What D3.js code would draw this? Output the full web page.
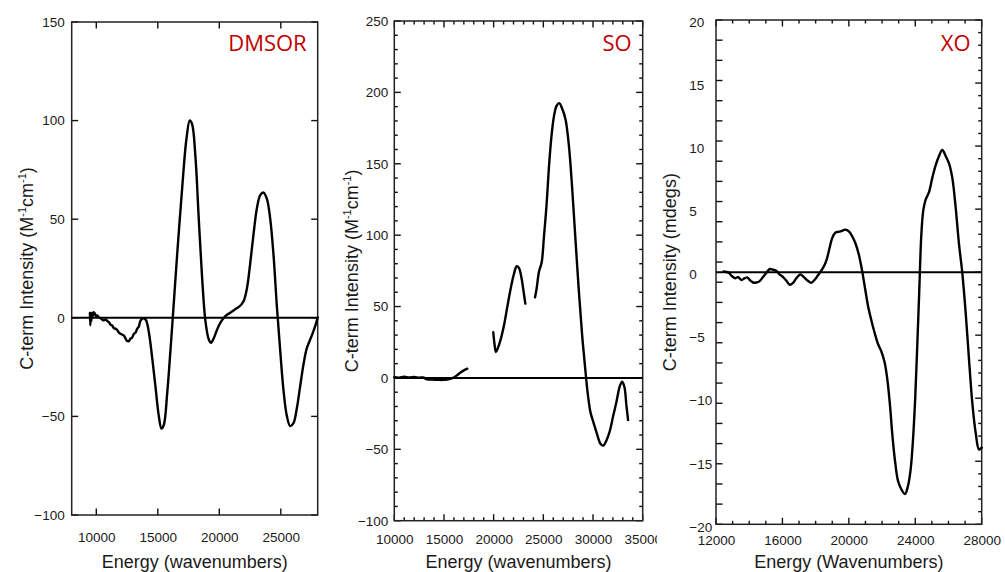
<!DOCTYPE html>
<html>
<head>
<meta charset="utf-8">
<script src="https://cdn.jsdelivr.net/npm/d3@7"></script>
<style>
  body { margin: 0; background: #fff; }
  svg text { font-family: "Liberation Sans", Arial, Helvetica, sans-serif; fill: #1a1a1a; }
  .panelName { font-family: "Open Sans", "Liberation Sans", sans-serif !important; fill: #c00000 !important; }
</style>
</head>
<body>
<svg id="chart" width="1005" height="572"></svg>
<script>
////////////////// Data ////////////////////
var panelNames = ["DMSOR", "SO", "XO"];

// DMSOR
var dmsorEnergy = [9480, 9510, 9560, 9600, 9640, 9720, 9800, 9890, 9980, 10080, 10200, 10350, 10480, 10620,
  10750, 10890, 11020, 11160, 11300, 11430, 11560, 11700, 11840, 11970, 12100, 12240, 12380, 12510, 12650,
  12780, 12920, 13050, 13190, 13320, 13460, 13560, 13650, 13860, 14050, 14270, 14540, 14810, 15080, 15300,
  15490, 15760, 16030, 16240, 16570, 16970, 17330, 17600, 17790, 18060, 18330, 18600, 18870, 19140, 19330,
  19540, 19810, 20080, 20490, 20890, 21300, 21700, 21980, 22250, 22520, 22790, 23060, 23330, 23600, 23870,
  24140, 24410, 24680, 24950, 25220, 25490, 25760, 26030, 26300, 26570, 26840, 27110, 27520, 27790, 28000];
var dmsorIntensity = [2.4, -3.8, 1.7, -1.5, 2.6, 1.0, 2.8, 2.0, 0.8, 1.2, 0.2, -0.2, -0.9, -1.3,
  -0.8, -1.6, -2.2, -3.5, -4.0, -5.3, -5.5, -6.2, -7.5, -8.1, -8.5, -9.0, -10.5, -11.8, -11.8,
  -10.6, -10.0, -8.2, -7.5, -5.6, -4.4, -2.0, -0.9, -0.2, -1.3, -7.2, -20.1, -34.9, -49.7, -56.2,
  -54.3, -38.6, -16.4, 2.1, 31.7, 64.9, 90.8, 100.1, 98.2, 81.6, 50.2, 20.6, -1.6, -10.9, -12.7,
  -10.5, -6.2, -2.6, 0.8, 2.6, 4.3, 6.1, 8.5, 15.0, 28.0, 42.8, 55.7, 62.2, 63.5, 60.3,
  50.2, 31.7, 5.8, -16.4, -36.8, -49.7, -54.9, -53.4, -46.0, -34.9, -23.8, -15.5, -9.0, -4.4, 0.2];

// SO (three separate pieces)
var soEnergy1 = [10000, 10500, 11000, 11500, 12000, 12500, 12900, 13300, 13800, 14300, 14800, 15300, 15900, 16300, 16700, 17000, 17350];
var soIntensity1 = [0.5, 0.2, 0.8, 0.3, 0.6, 0.2, 0.3, -1.0, -1.2, -1.3, -1.4, -1.2, 0.0, 1.8, 4.0, 5.3, 6.5];
var soEnergy2 = [19960, 20080, 20220, 20400, 20710, 21050, 21380, 21720, 22050, 22320, 22550, 22790, 22990, 23190];
var soIntensity2 = [32, 24, 18.2, 20.5, 27, 37.2, 50, 62.8, 73.1, 78.2, 76.9, 70.5, 61.5, 52];
var soEnergy3 = [24160, 24330, 24560, 24830, 25060, 25330, 25560, 25800, 26070, 26330, 26600, 26900, 27240,
  27570, 27910, 28240, 28580, 28910, 29250, 29480, 29750, 30080, 30420, 30750, 31020, 31360, 31690, 32020,
  32360, 32690, 32930, 33160, 33360, 33530];
var soIntensity3 = [56.4, 62.8, 74.4, 80.8, 98.7, 121.8, 147.4, 168, 183.3, 190.5, 192.5, 188.5, 180.8,
  162.8, 132, 96.2, 60.3, 29.5, 3.9, -11.5, -24.3, -32, -39.7, -46.1, -47.4, -43.6, -37.2, -26.9,
  -16.7, -5.9, -2.6, -6.4, -19.2, -29.5];

// XO
var xoEnergy = [12460, 12760, 12970, 13170, 13330, 13530, 13710, 13870, 14030, 14230, 14430, 14630, 14830,
  15035, 15240, 15440, 15640, 15840, 16040, 16240, 16440, 16640, 16840, 17085, 17290, 17530, 17730, 17930,
  18130, 18330, 18530, 18690, 18850, 19000, 19200, 19500, 19800, 20000, 20200, 20400, 20600, 20800, 20965,
  21150, 21350, 21550, 21750, 21950, 22150, 22310, 22470, 22630, 22790, 22955, 23115, 23380, 23560, 23720,
  23860, 24000, 24120, 24240, 24360, 24480, 24620, 24820, 25025, 25230, 25430, 25630, 25830, 26030, 26230,
  26430, 26630, 26830, 27035, 27240, 27440, 27640, 27840, 28000];
var xoIntensity = [0.05, -0.04, -0.33, -0.48, -0.39, -0.62, -0.5, -0.42, -0.62, -0.82, -0.82, -0.71, -0.39,
  -0.04, 0.25, 0.19, 0.1, -0.19, -0.39, -0.68, -1.0, -0.85, -0.48, -0.19, -0.39, -0.68, -0.85, -0.62,
  -0.27, 0.1, 0.54, 1.12, 1.98, 2.71, 3.14, 3.23, 3.37, 3.23, 2.85, 2.27, 1.4, 0.1, -1.2,
  -2.64, -3.8, -4.81, -5.68, -6.26, -7.13, -8.43, -10.45, -13.06, -15.08, -16.53, -17.1, -17.6, -16.96, -15.66,
  -13.35, -9.87, -5.83, -1.49, 2.85, 4.88, 5.74, 6.32, 7.48, 8.49, 9.21, 9.7, 9.21, 8.63, 7.48,
  5.16, 2.27, -0.04, -3.22, -7.0, -10.45, -12.77, -14.07, -13.92];

// Tick labels
var dmsorXTicks = [10000, 15000, 20000, 25000];
var dmsorYTicks = [150, 100, 50, 0, -50, -100];
var soXTicks = [10000, 15000, 20000, 25000, 30000, 35000];
var soYTicks = [250, 200, 150, 100, 50, 0, -50, -100];
var xoXTicks = [12000, 16000, 20000, 24000, 28000];
var xoYTicks = [20, 15, 10, 5, 0, -5, -10, -15, -20];

////////////////// Panel layout ////////////////////
var panels = [
  { name: panelNames[0], left: 71.7, right: 317.7, top: 22, bottom: 515,
    xDomain: [8000, 28000], yDomain: [-100, 150],
    xTicks: dmsorXTicks, yTicks: dmsorYTicks, xPad: 17, yPad: 7,
    series: [[dmsorEnergy, dmsorIntensity]],
    yTitle: "unit", yTitleX: 27, xTitle: "Energy (wavenumbers)" },
  { name: panelNames[1], left: 394.3, right: 642.7, top: 21, bottom: 520.7,
    xDomain: [10000, 35000], yDomain: [-100, 250],
    xTicks: soXTicks, yTicks: soYTicks, xPad: 13.5, yPad: 6,
    xMinorStep: 1000, yMinorStep: 10, clipRight: 657,
    series: [[soEnergy1, soIntensity1], [soEnergy2, soIntensity2], [soEnergy3, soIntensity3]],
    yTitle: "unit", yTitleX: 352, xTitle: "Energy (wavenumbers)" },
  { name: panelNames[2], left: 716, right: 981.7, top: 20, bottom: 524.3,
    xDomain: [12000, 28000], yDomain: [-20, 20],
    xTicks: xoXTicks, yTicks: xoYTicks, xPad: 11, yPad: 6,
    xMinorStep: 1000, yMinorStep: 1, yLeftStep: 1.6, yLeftAlign: 689.3,
    series: [[xoEnergy, xoIntensity]],
    yTitle: "C-term Intensity (mdegs)", yTitleX: 670, xTitle: "Energy (Wavenumbers)" }
];

var svg = d3.select("#chart");
svg.append("rect").attr("width", 1005).attr("height", 572).attr("fill", "#fff");

var majorLen = 6.5, minorLen = 3.5;

function stepValues(domain, step) {
  var n = Math.round((domain[1] - domain[0]) / step);
  return d3.range(n + 1).map(k => domain[0] + k * step);
}

// inward tick marks, drawn from the scale
function xTickMarks(g, x, values, y0, dir, len) {
  g.append("g").selectAll("line").data(values).enter().append("line")
    .attr("x1", d => x(d)).attr("x2", d => x(d))
    .attr("y1", y0).attr("y2", y0 + dir * len)
    .attr("stroke", "#111").attr("stroke-width", 1.4);
}
function yTickMarks(g, y, values, x0, dir, len) {
  g.append("g").selectAll("line").data(values).enter().append("line")
    .attr("y1", d => y(d)).attr("y2", d => y(d))
    .attr("x1", x0).attr("x2", x0 + dir * len)
    .attr("stroke", "#111").attr("stroke-width", 1.4);
}

function labelAxis(sel) {
  sel.select(".domain").remove();
  sel.selectAll(".tick line").remove();
  sel.attr("font-family", null).attr("font-size", 13.5);
}

panels.forEach(function (p, i) {
  var g = svg.append("g");

  if (p.clipRight) {
    svg.append("clipPath").attr("id", "clip" + i)
      .append("rect").attr("x", 0).attr("y", 0).attr("width", p.clipRight).attr("height", 572);
    g.attr("clip-path", `url(#clip${i})`);
  }

  var x = d3.scaleLinear().domain(p.xDomain).range([p.left, p.right]);
  var y = d3.scaleLinear().domain(p.yDomain).range([p.bottom, p.top]);

  ////////// Tick marks //////////
  xTickMarks(g, x, p.xTicks, p.bottom, -1, majorLen);
  xTickMarks(g, x, p.xTicks, p.top, 1, majorLen);
  yTickMarks(g, y, p.yTicks, p.right, -1, majorLen);
  if (p.xMinorStep) {
    var xm = stepValues(p.xDomain, p.xMinorStep).filter(v => p.xTicks.indexOf(v) < 0);
    xTickMarks(g, x, xm, p.bottom, -1, minorLen);
    xTickMarks(g, x, xm, p.top, 1, minorLen);
  }
  if (p.yMinorStep) {
    var ym = stepValues(p.yDomain, p.yMinorStep).filter(v => p.yTicks.indexOf(v) < 0);
    yTickMarks(g, y, ym, p.right, -1, minorLen);
    if (!p.yLeftStep) yTickMarks(g, y, ym, p.left, 1, minorLen);
  }
  if (p.yLeftStep) {
    // XO left axis: evenly spaced ticks that do not sit on the labels
    yTickMarks(g, y, stepValues(p.yDomain, p.yLeftStep), p.left, 1, majorLen);
  } else {
    yTickMarks(g, y, p.yTicks, p.left, 1, majorLen);
  }

  ////////// Tick labels //////////
  g.append("g").attr("transform", `translate(0,${p.bottom})`)
    .call(d3.axisBottom(x).tickValues(p.xTicks).tickSize(0)
      .tickPadding(p.xPad).tickFormat(d3.format("d")))
    .call(labelAxis);

  var yl = g.append("g").attr("transform", `translate(${p.left},0)`)
    .call(d3.axisLeft(y).tickValues(p.yTicks).tickSize(0)
      .tickPadding(p.yPad).tickFormat(d3.format("d")))
    .call(labelAxis);
  if (p.yLeftAlign) {
    yl.selectAll("text").attr("text-anchor", "start").attr("x", p.yLeftAlign - p.left).attr("dy", "0.5em");
  }

  ////////// Frame + zero line //////////
  g.append("rect")
    .attr("x", p.left).attr("y", p.top)
    .attr("width", p.right - p.left).attr("height", p.bottom - p.top)
    .attr("fill", "none").attr("stroke", "#222").attr("stroke-width", 1.5);

  g.append("line")
    .attr("x1", p.left).attr("x2", p.right)
    .attr("y1", y(0)).attr("y2", y(0))
    .attr("stroke", "#000").attr("stroke-width", 2);

  ////////// Curves //////////
  var line = d3.line()
    .x(d => x(d[0]))
    .y(d => y(d[1]))
    .curve(d3.curveCatmullRom.alpha(0.5));

  p.series.forEach(function (s) {
    g.append("path")
      .datum(d3.zip(s[0], s[1]))
      .attr("d", line)
      .attr("fill", "none")
      .attr("stroke", "#000")
      .attr("stroke-width", 2.4)
      .attr("stroke-linejoin", "round")
      .attr("stroke-linecap", "round");
  });

  ////////// Titles //////////
  g.append("text")
    .attr("x", (p.left + p.right) / 2)
    .attr("y", 568)
    .attr("text-anchor", "middle")
    .attr("font-size", 18)
    .text(p.xTitle);

  var yt = g.append("text")
    .attr("transform", `translate(${p.yTitleX},${(p.top + p.bottom) / 2}) rotate(-90)`)
    .attr("dy", "0.35em")
    .attr("text-anchor", "middle")
    .attr("font-size", 18);
  if (p.yTitle === "unit") {
    yt.append("tspan").text("C-term Intensity (M");
    yt.append("tspan").attr("font-size", 11).attr("dy", -7).text("-1");
    yt.append("tspan").attr("dy", 7).text("cm");
    yt.append("tspan").attr("font-size", 11).attr("dy", -7).text("-1");
    yt.append("tspan").attr("dy", 7).text(")");
  } else {
    yt.text(p.yTitle);
  }

  g.append("text")
    .attr("class", "panelName")
    .attr("x", p.right - 11)
    .attr("y", 51)
    .attr("text-anchor", "end")
    .attr("font-size", 22)
    .text(p.name);
});
</script>
</body>
</html>
